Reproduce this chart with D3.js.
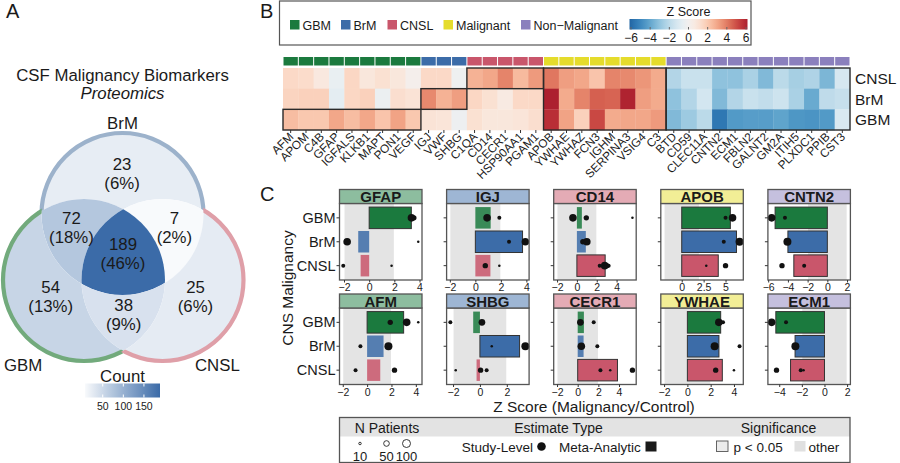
<!DOCTYPE html>
<html>
<head>
<meta charset="utf-8">
<script src="https://cdn.jsdelivr.net/npm/d3@7"></script>
<style>
  body { margin: 0; background: #fff; }
  text { font-family: "Liberation Sans", Arial, sans-serif; fill: #1a1a1a; }
</style>
</head>
<body>
<svg id="fig" width="900" height="463"></svg>
<script>
// ---- data: panel A (Venn) ----
const vennSets = ['BrM', 'GBM', 'CNSL'];
const regionSets = [['BrM'], ['BrM', 'GBM'], ['BrM', 'CNSL'], ['BrM', 'GBM', 'CNSL'], ['GBM'], ['GBM', 'CNSL'], ['CNSL']];
const regionCounts = [23, 72, 7, 189, 54, 38, 25];
const regionPcts = [6, 18, 2, 46, 13, 9, 6];
const countTicks = [50, 100, 150];

// ---- data: panel B (heatmap) ----
const gbmGenes = ['AFM', 'APOM', 'C4B', 'GFAP', 'IGFALS', 'KLKB1', 'MAPT', 'PON1', 'VEGF'];
const brmGenes = ['IGJ', 'VWF', 'SHBG'];
const cnslGenes = ['C1QA', 'CD14', 'CECR1', 'HSP90AA1', 'PGAM1'];
const malignantGenes = ['APOB', 'YWHAE', 'YWHAZ', 'FCN3', 'IGHM', 'SERPINA3', 'VSIG4', 'C3'];
const nonMalignantGenes = ['BTD', 'CD59', 'CLEC11A', 'CNTN2', 'ECM1', 'FBLN2', 'GALNT2', 'GM2A', 'ITIH5', 'PLXDC1', 'PPIB', 'CST3'];
const heatRows = ['CNSL', 'BrM', 'GBM'];
const heatCNSL = [1.4, 1.3, 0.7, -0.5, 1.5, 0.8, 1.1, 0.8, 0.2,
  1.4, 1.4, -0.2,
  2.6, 2.9, 3.7, 2.4, 3.2,
  4.0, 3.1, 2.9, 2.1, 3.7, 3.6, 3.3, 2.8,
  -2.2, -1.6, -1.6, -3.0, -3.0, -2.4, -3.3, -2.0, -2.5, -2.3, -3.4, -1.2];
const heatBrM = [1.6, 1.7, 1.7, -0.7, 1.5, 1.7, -0.4, 1.2, 1.0,
  3.6, 2.6, 3.1,
  1.5, 1.1, 0.6, 1.4, 1.4,
  6.2, 2.8, 3.7, 4.5, 4.4, 5.9, 3.1, 2.8,
  -3.0, -2.2, -1.3, -3.3, -2.2, -1.6, -1.8, -1.5, -2.4, -3.8, -1.9, -1.7];
const heatGBM = [2.3, 2.0, 2.0, 2.9, 2.3, 2.9, 2.1, 3.0, 2.0,
  1.0, 0.9, -0.3,
  1.1, 0.8, 0.8, 0.9, 1.2,
  5.6, 3.0, 1.7, 5.0, 2.8, 2.9, 2.9, 3.2,
  -3.3, -2.7, -2.0, -5.4, -4.3, -4.2, -4.2, -4.0, -4.4, -4.5, -4.3, -1.1];
const zTicks = [-6, -4, -2, 0, 2, 4, 6];

// ---- data: panel C (per-protein bars and study estimates) ----
const malignancies = ['GBM', 'BrM', 'CNSL'];
const panelGenes = ['GFAP', 'IGJ', 'CD14', 'APOB', 'CNTN2', 'AFM', 'SHBG', 'CECR1', 'YWHAE', 'ECM1'];
const panelGroups = ['GBM', 'BrM', 'CNSL', 'Malignant', 'Non-Malignant', 'GBM', 'BrM', 'CNSL', 'Malignant', 'Non-Malignant'];
const barGBM = [3.35, 1.2, 0.5, 5.55, -5.3, 3.0, -0.5, 0.6, 2.86, -4.3];
const barBrM = [-0.87, 3.7, 0.9, 6.25, -4.0, 1.35, 2.95, 0.57, 2.71, -2.6];
const barCNSL = [-0.68, 1.18, 2.85, 4.17, -3.4, 1.08, -0.25, 3.85, 3.0, -3.0];
const studyDots = [
  [['GBM', 3.36, 90], ['GBM', 3.55, 45], ['BrM', -1.75, 90], ['BrM', 3.9, 10], ['CNSL', -2.06, 25], ['CNSL', 1.78, 10]],
  [['GBM', 0.92, 90], ['GBM', 1.88, 25], ['BrM', 2.64, 25], ['BrM', 3.92, 90], ['CNSL', 0.78, 45], ['CNSL', 1.88, 10]],
  [['GBM', -0.4, 90], ['GBM', 0.95, 45], ['GBM', 5.6, 10], ['BrM', 0.6, 45], ['BrM', 1.0, 90], ['CNSL', 2.3, 25], ['CNSL', 2.8, 90], ['CNSL', 3.0, 45], ['CNSL', 3.2, 25]],
  [['GBM', 5.0, 25], ['GBM', 5.8, 90], ['BrM', 4.8, 25], ['BrM', 6.6, 100], ['CNSL', 2.8, 10], ['CNSL', 5.0, 45]],
  [['GBM', -5.65, 90], ['GBM', -4.3, 25], ['BrM', -4.05, 100], ['CNSL', -4.6, 45], ['CNSL', -2.35, 25]],
  [['GBM', 1.9, 45], ['GBM', 3.25, 90], ['GBM', 4.2, 10], ['BrM', -0.55, 25], ['BrM', 1.75, 100], ['CNSL', -0.95, 25], ['CNSL', 2.25, 45]],
  [['GBM', -2.2, 25], ['GBM', 0.15, 70], ['BrM', 0.88, 10], ['BrM', 3.38, 100], ['CNSL', -1.8, 10], ['CNSL', 0.05, 45], ['CNSL', 0.5, 25]],
  [['GBM', 0.26, 70], ['GBM', 1.55, 25], ['BrM', 0.35, 90], ['BrM', 1.9, 25], ['CNSL', 2.2, 25], ['CNSL', 3.15, 10], ['CNSL', 5.3, 45]],
  [['GBM', 2.7, 90], ['GBM', 3.06, 25], ['BrM', 2.34, 100], ['BrM', 4.48, 25], ['CNSL', 2.43, 45], ['CNSL', 4.0, 10]],
  [['GBM', -4.67, 90], ['GBM', -3.4, 25], ['BrM', -2.57, 100], ['CNSL', -4.24, 45], ['CNSL', -2.1, 25], ['CNSL', -1.85, 10]]
];
const panelTicks = [[-2, 0, 2, 4], [-2, 0, 2, 4], [-2, 0, 2, 4], [0, 2.5, 5], [-6, -4, -2, 0, 2],
  [-2, 0, 2, 4], [-2, 0, 2], [-2, 0, 2, 4], [-2, 0, 2, 4], [-4, -2, 0, 2]];
const nPatientTicks = [10, 50, 100];

// ---- styling ----
const groupColor = {GBM: '#1b7a3e', BrM: '#3c6ca8', CNSL: '#c9566b', Malignant: '#e5dc2c', 'Non-Malignant': '#8b80bd'};
const groupLabel = {GBM: 'GBM', BrM: 'BrM', CNSL: 'CNSL', Malignant: 'Malignant', 'Non-Malignant': 'Non\u2212Malignant'};
const vennStroke = {BrM: '#9cb2cb', GBM: '#72aa7c', CNSL: '#df9fa8'};
const zColor = z => d3.interpolateRdBu(0.5 - Math.max(-6, Math.min(6, z)) / 15);
const blend = (c, a) => d3.interpolateRgb('#ffffff', c)(a);

const svg = d3.select('#fig');
const defs = svg.append('defs');

// panel letters
[['A', 6, 18], ['B', 260, 18], ['C', 260, 201]].forEach(([t, x, y]) =>
  svg.append('text').attr('x', x).attr('y', y).attr('font-size', 20).text(t));

// ================= Panel A =================
const vr = 81;
const vc = {BrM: [122.5, 214], GBM: [84, 280], CNSL: [162.5, 280]};
const cen = [d3.mean(vennSets, s => vc[s][0]), d3.mean(vennSets, s => vc[s][1])];
const countColor = d3.scaleLinear().domain([0, 189]).range(['#ffffff', '#3b6ba8']);

svg.append('text').attr('x', 122.5).attr('y', 81).attr('text-anchor', 'middle')
  .attr('font-size', 16.8).text('CSF Malignancy Biomarkers');
svg.append('text').attr('x', 122.5).attr('y', 98.5).attr('text-anchor', 'middle')
  .attr('font-size', 16.8).attr('font-style', 'italic').text('Proteomics');

vennSets.forEach(s => {
  defs.append('clipPath').attr('id', 'clip-' + s)
    .append('circle').attr('cx', vc[s][0]).attr('cy', vc[s][1]).attr('r', vr);
});

const venn = svg.append('g');
regionSets.forEach((sets, i) => {
  const excl = vennSets.filter(s => !sets.includes(s));
  const m = defs.append('mask').attr('id', 'vm' + i);
  m.append('rect').attr('width', 280).attr('height', 463).attr('fill', '#fff');
  excl.forEach(s => m.append('circle').attr('cx', vc[s][0]).attr('cy', vc[s][1]).attr('r', vr).attr('fill', '#000'));
  let g = venn.append('g').attr('mask', `url(#vm${i})`);
  sets.forEach(s => { g = g.append('g').attr('clip-path', `url(#clip-${s})`); });
  g.append('rect').attr('width', 280).attr('height', 463).attr('fill', countColor(regionCounts[i]));
});

// outer outline only (parts of each circle outside the others)
vennSets.forEach(s => {
  const m = defs.append('mask').attr('id', 'om-' + s);
  m.append('rect').attr('width', 280).attr('height', 463).attr('fill', '#fff');
  vennSets.filter(o => o !== s).forEach(o =>
    m.append('circle').attr('cx', vc[o][0]).attr('cy', vc[o][1]).attr('r', vr).attr('fill', '#000'));
  venn.append('circle').attr('cx', vc[s][0]).attr('cy', vc[s][1]).attr('r', vr)
    .attr('fill', 'none').attr('stroke', vennStroke[s]).attr('stroke-width', 4.2)
    .attr('mask', `url(#om-${s})`);
});

regionSets.forEach((sets, i) => {
  const m = [d3.mean(sets, s => vc[s][0]), d3.mean(sets, s => vc[s][1])];
  let dx = m[0] - cen[0], dy = m[1] - cen[1];
  const len = Math.hypot(dx, dy);
  const dist = sets.length === 1 ? 83 : sets.length === 2 ? 59 : 0;
  const px = len ? cen[0] + dx / len * dist : cen[0];
  const py = len ? cen[1] + dy / len * dist : cen[1] - 3;
  const t = venn.append('text').attr('text-anchor', 'middle').attr('font-size', 16.8).attr('fill', '#222');
  t.append('tspan').attr('x', px).attr('y', py - 5.5).text(regionCounts[i]);
  t.append('tspan').attr('x', px).attr('y', py + 13.5).text(`(${regionPcts[i]}%)`);
});

svg.append('text').attr('x', 122.5).attr('y', 129).attr('text-anchor', 'middle').attr('font-size', 16.8).text('BrM');
svg.append('text').attr('x', 4).attr('y', 371).attr('font-size', 16.8).text('GBM');
svg.append('text').attr('x', 195).attr('y', 371).attr('font-size', 16.8).text('CNSL');

// count colour bar
const cbX = d3.scaleLinear().domain([d3.min(regionCounts), d3.max(regionCounts)]).range([85, 160]);
const cg = defs.append('linearGradient').attr('id', 'countGrad');
d3.range(0, 1.01, 0.1).forEach(t => cg.append('stop').attr('offset', t)
  .attr('stop-color', countColor(cbX.domain()[0] + t * (cbX.domain()[1] - cbX.domain()[0]))));
svg.append('text').attr('x', 122.5).attr('y', 381.5).attr('text-anchor', 'middle').attr('font-size', 16.8).text('Count');
svg.append('rect').attr('x', 85).attr('y', 383.5).attr('width', 75).attr('height', 14).attr('fill', 'url(#countGrad)');
countTicks.forEach(v => {
  svg.append('line').attr('x1', cbX(v)).attr('x2', cbX(v)).attr('y1', 383.5).attr('y2', 386.5).attr('stroke', '#fff');
  svg.append('line').attr('x1', cbX(v)).attr('x2', cbX(v)).attr('y1', 394.5).attr('y2', 397.5).attr('stroke', '#fff');
  svg.append('text').attr('x', cbX(v)).attr('y', 409.5).attr('text-anchor', 'middle')
    .attr('font-size', 10.5).attr('fill', '#333').text(v);
});

// ================= Panel B =================
const heatGenes = [...gbmGenes, ...brmGenes, ...cnslGenes, ...malignantGenes, ...nonMalignantGenes];
const geneGroupList = [['GBM', gbmGenes], ['BrM', brmGenes], ['CNSL', cnslGenes], ['Malignant', malignantGenes], ['Non-Malignant', nonMalignantGenes]];
const geneGroup = {};
geneGroupList.forEach(([g, list]) => list.forEach(n => { geneGroup[n] = g; }));
const heatVals = {CNSL: heatCNSL, BrM: heatBrM, GBM: heatGBM};

const xB = d3.scaleBand().domain(heatGenes).range([283, 850]);
const yB = d3.scaleBand().domain(heatRows).range([68, 130]);

// legend box
svg.append('rect').attr('x', 279.5).attr('y', 1).attr('width', 471.5).attr('height', 44)
  .attr('fill', '#fff').attr('stroke', '#555').attr('stroke-width', 1.2);
const legItems = [['GBM', 290], ['BrM', 341], ['CNSL', 387.5], ['Malignant', 443.5], ['Non-Malignant', 521]];
legItems.forEach(([g, x]) => {
  svg.append('rect').attr('x', x).attr('y', 20).attr('width', 9.5).attr('height', 9.5).attr('fill', groupColor[g]);
  svg.append('text').attr('x', x + 12.5).attr('y', 29.5).attr('font-size', 12.5).text(groupLabel[g]);
});
const zX = d3.scaleLinear().domain([-6, 6]).range([631, 746]);
const zg = defs.append('linearGradient').attr('id', 'zGrad');
d3.range(0, 1.001, 0.05).forEach(t => zg.append('stop').attr('offset', t).attr('stop-color', zColor(-6 + 12 * t)));
svg.append('text').attr('x', 688.5).attr('y', 15.5).attr('text-anchor', 'middle').attr('font-size', 12.5).text('Z Score');
svg.append('rect').attr('x', 629.5).attr('y', 19).attr('width', 118).attr('height', 10.5).attr('fill', 'url(#zGrad)');
zTicks.forEach(v => {
  svg.append('line').attr('x1', zX(v)).attr('x2', zX(v)).attr('y1', 27).attr('y2', 29.5).attr('stroke', '#666');
  svg.append('text').attr('x', zX(v)).attr('y', 42).attr('text-anchor', 'middle').attr('font-size', 12)
    .attr('fill', '#333').text(d3.format('')(v).replace('-', '\u2212'));
});

// annotation strip
svg.append('g').selectAll('rect').data(heatGenes).join('rect')
  .attr('x', d => xB(d) + 0.5).attr('y', 57).attr('width', xB.bandwidth() - 1).attr('height', 8.5)
  .attr('fill', d => groupColor[geneGroup[d]]);

// cells
const cells = [];
heatRows.forEach(r => heatGenes.forEach((g, j) => cells.push({row: r, gene: g, z: heatVals[r][j]})));
svg.append('g').selectAll('rect').data(cells).join('rect')
  .attr('x', d => xB(d.gene)).attr('y', d => yB(d.row))
  .attr('width', xB.bandwidth() + 0.3).attr('height', yB.bandwidth() + 0.3)
  .attr('fill', d => zColor(d.z));

// group outline boxes
const boxRows = {GBM: ['GBM'], BrM: ['BrM'], CNSL: ['CNSL'], Malignant: heatRows, 'Non-Malignant': heatRows};
geneGroupList.forEach(([g, list]) => {
  const rows = boxRows[g];
  const x0 = xB(list[0]), x1 = xB(list[list.length - 1]) + xB.bandwidth();
  const y0 = d3.min(rows, r => yB(r)), y1 = d3.max(rows, r => yB(r)) + yB.bandwidth();
  svg.append('rect').attr('x', x0).attr('y', y0).attr('width', x1 - x0).attr('height', y1 - y0)
    .attr('fill', 'none').attr('stroke', '#2a2a2a').attr('stroke-width', 1.4);
});

heatRows.forEach(r => svg.append('text').attr('x', 855).attr('y', yB(r) + yB.bandwidth() / 2 + 5.5)
  .attr('font-size', 15.5).text(r));

const xLab = svg.append('g');
heatGenes.forEach(g => {
  const cx = xB(g) + xB.bandwidth() / 2;
  xLab.append('line').attr('x1', cx).attr('x2', cx).attr('y1', 130).attr('y2', 133).attr('stroke', '#333');
  xLab.append('text').attr('transform', `translate(${cx + 3.5},${137.5}) rotate(-45)`)
    .attr('text-anchor', 'end').attr('font-size', 11.8).attr('fill', '#222').text(g);
});

// ================= Panel C =================
const colX0 = 339.5, colStep = 107.1, pW = 82.5, stripH = 14, plotH = 76.5;
const rowY0 = [189.5, 294];
const rSize = d3.scaleSqrt().domain([0, 100]).range([0, 4]);

panelGenes.forEach((gene, i) => {
  const col = i % 5, row = Math.floor(i / 5);
  const x0 = colX0 + col * colStep, sy = rowY0[row], py = sy + stripH;
  const bars = malignancies.map((m, k) => ({m, z: [barGBM, barBrM, barCNSL][k][i]}));
  const dots = studyDots[i];
  const ext = d3.extent([...bars.map(b => b.z), ...dots.map(d => d[1]), -1.96, 1.96]);
  const pad = (ext[1] - ext[0]) * 0.05;
  const x = d3.scaleLinear().domain([ext[0] - pad, ext[1] + pad]).range([x0, x0 + pW]);
  const y = d3.scaleBand().domain(malignancies).range([py, py + plotH]).paddingInner(0.1).paddingOuter(0.15);
  const g = svg.append('g');

  g.append('rect').attr('x', x0).attr('y', py).attr('width', pW).attr('height', plotH).attr('fill', '#fff');
  g.append('rect').attr('x', x(-1.96)).attr('y', py).attr('width', x(1.96) - x(-1.96)).attr('height', plotH)
    .attr('fill', '#e4e4e4');

  g.selectAll('.bar').data(bars).join('rect')
    .attr('x', d => x(Math.min(0, d.z))).attr('y', d => y(d.m))
    .attr('width', d => Math.abs(x(d.z) - x(0))).attr('height', y.bandwidth())
    .attr('fill', d => groupColor[d.m])
    .attr('fill-opacity', d => Math.abs(d.z) > 1.96 ? 1 : 0.85)
    .attr('stroke', d => Math.abs(d.z) > 1.96 ? '#333' : 'none').attr('stroke-width', 1);

  g.selectAll('circle').data(dots).join('circle')
    .attr('cx', d => x(d[1])).attr('cy', d => y(d[0]) + y.bandwidth() / 2)
    .attr('r', d => rSize(d[2])).attr('fill', '#111');

  g.append('rect').attr('x', x0).attr('y', py).attr('width', pW).attr('height', plotH)
    .attr('fill', 'none').attr('stroke', '#555').attr('stroke-width', 1.3);

  // strip
  g.append('rect').attr('x', x0).attr('y', sy).attr('width', pW).attr('height', stripH)
    .attr('fill', blend(groupColor[panelGroups[i]], 0.5)).attr('stroke', '#555').attr('stroke-width', 1.3);
  g.append('text').attr('x', x0 + pW / 2).attr('y', sy + stripH / 2 + 5.5).attr('text-anchor', 'middle')
    .attr('font-size', 15).attr('font-weight', 'bold').text(gene);

  // axes
  const ax = g.append('g').attr('transform', `translate(0,${py + plotH})`)
    .call(d3.axisBottom(x).tickValues(panelTicks[i]).tickSize(2.5).tickPadding(1.5).tickFormat(d3.format('~g')));
  ax.select('.domain').remove();
  ax.selectAll('line').attr('stroke', '#333');
  ax.selectAll('text').attr('font-size', 10.5).attr('fill', '#4d4d4d')
    .attr('font-family', '"Liberation Sans", Arial, sans-serif');

  malignancies.forEach(m => {
    const cy = y(m) + y.bandwidth() / 2;
    g.append('line').attr('x1', x0 - 3).attr('x2', x0).attr('y1', cy).attr('y2', cy).attr('stroke', '#333');
    if (col === 0) g.append('text').attr('x', x0 - 4).attr('y', cy + 5).attr('text-anchor', 'end')
      .attr('font-size', 14.5).attr('fill', '#333').text(m);
  });
});

svg.append('text').attr('transform', 'translate(292.5,288) rotate(-90)').attr('text-anchor', 'middle')
  .attr('font-size', 15.5).text('CNS Malignancy');
svg.append('text').attr('x', 594).attr('y', 411.5).attr('text-anchor', 'middle')
  .attr('font-size', 15.5).text('Z Score (Malignancy/Control)');

// bottom legend
const lg = svg.append('g');
lg.append('rect').attr('x', 339.5).attr('y', 417.5).attr('width', 510.5).attr('height', 19).attr('fill', '#e3e3e3');
lg.append('rect').attr('x', 339.5).attr('y', 417.5).attr('width', 510.5).attr('height', 45)
  .attr('fill', 'none').attr('stroke', '#555').attr('stroke-width', 1.3);
[['N Patients', 387], ['Estimate Type', 558.5], ['Significance', 778.5]].forEach(([t, x]) =>
  lg.append('text').attr('x', x).attr('y', 432.5).attr('text-anchor', 'middle').attr('font-size', 14).text(t));
const nX = [360, 386.5, 406.5];
nPatientTicks.forEach((n, k) => {
  lg.append('circle').attr('cx', nX[k]).attr('cy', 443.5).attr('r', rSize(n))
    .attr('fill', 'none').attr('stroke', '#222').attr('stroke-width', 0.9);
  lg.append('text').attr('x', nX[k]).attr('y', 460.5).attr('text-anchor', 'middle').attr('font-size', 13).text(n);
});
lg.append('text').attr('x', 533).attr('y', 451.5).attr('text-anchor', 'end').attr('font-size', 13.5).text('Study-Level');
lg.append('circle').attr('cx', 541.5).attr('cy', 446.5).attr('r', 4.3).attr('fill', '#111');
lg.append('text').attr('x', 559).attr('y', 451.5).attr('font-size', 13.5).text('Meta-Analytic');
lg.append('rect').attr('x', 645.5).attr('y', 441.5).attr('width', 11).attr('height', 10).attr('fill', '#1a1a1a');
lg.append('rect').attr('x', 716.5).attr('y', 441).attr('width', 11.5).attr('height', 10.5)
  .attr('fill', '#ececec').attr('stroke', '#555').attr('stroke-width', 0.9);
lg.append('text').attr('x', 733.5).attr('y', 451.5).attr('font-size', 13.5).text('p < 0.05');
lg.append('rect').attr('x', 794.5).attr('y', 441).attr('width', 11).attr('height', 10.5).attr('fill', '#e0e0e0');
lg.append('text').attr('x', 808.5).attr('y', 451.5).attr('font-size', 13.5).text('other');
</script>
</body>
</html>
